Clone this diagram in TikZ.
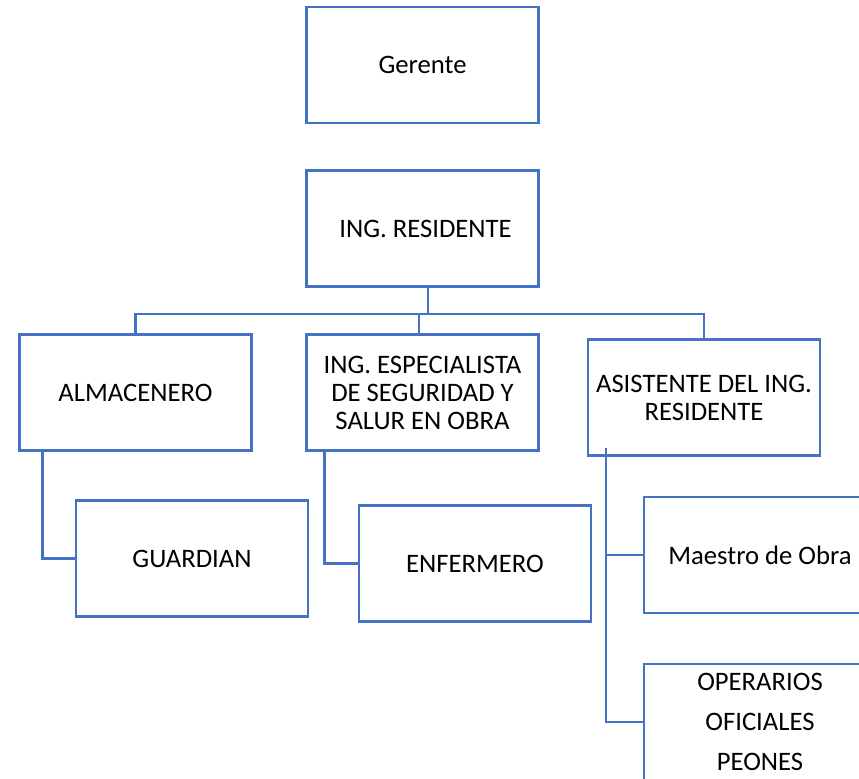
\documentclass[tikz,border=0pt]{standalone}
\usepackage{fontspec}
\setmainfont{Carlito}
\usetikzlibrary{calc,positioning}
\definecolor{wordblue}{RGB}{68,114,196}

\begin{document}
\begin{tikzpicture}[
  x=0.75pt, y=-0.75pt,
  box/.style={draw=wordblue, line width=1.7pt, align=center, inner sep=2pt,
    minimum width=174pt, minimum height=87pt, font=\fontsize{20}{21}\selectfont},
  link/.style={draw=wordblue, line width=1.7pt}
]
\useasboundingbox (0,0) rectangle (859,778);
\clip (0,0) rectangle (859,778);

% Nodes
\node[box] (ger) at (422.5,65) {Gerente};
\node[box] (res) at (422.5,228.5) {\ ING. RESIDENTE};
\node[box] (alm) at (135.5,392.5) {ALMACENERO};
\node[box] (esp) at (422.5,392.5) {ING. ESPECIALISTA\\DE SEGURIDAD Y\\SALUR EN OBRA};
\node[box] (asi) at (704,397.5) {ASISTENTE DEL ING.\\RESIDENTE};
\node[box] (gua) at (192,558.5) {GUARDIAN};
\node[box] (enf) at (475,563.5) {ENFERMERO};
\node[box] (mae) at (760,555) {Maestro de Obra};
\node[box, font=\fontsize{20}{30}\selectfont] (ope) at (760,722) {OPERARIOS\\OFICIALES\\PEONES};

% Bus under the resident
\coordinate (bus) at (428,314);
\draw[link] (res.south -| bus) -- (bus);
\draw[link] (alm.north) |- (bus) -| (asi.north);
\draw[link] ($(bus -| esp.north)+(-3.5,0)$) -- ($(esp.north)+(-3.5,0)$);

% Lower levels
\draw[link] ($(alm.south west)+(24,0)$) |- (gua.west);
\draw[link] ($(esp.south west)+(19,0)$) |- (enf.west);
\coordinate (asib) at ($(asi.south west)+(19,-9)$);
\draw[link] (asib) |- (ope.west);
\draw[link] (asib) |- (mae.west);
\end{tikzpicture}
\end{document}
